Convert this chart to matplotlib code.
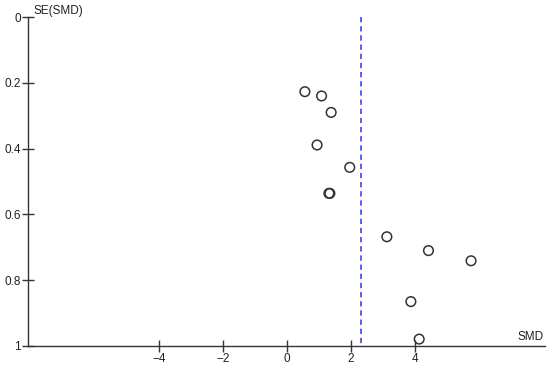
import matplotlib.pyplot as plt

plt.rcParams['font.family'] = ['Liberation Sans', 'DejaVu Sans']

# study effects
smd = [0.56, 1.08, 1.38, 0.94, 1.96, 1.31, 1.34, 3.12, 4.42, 5.75, 3.87, 4.13]
se_smd = [0.227, 0.240, 0.290, 0.389, 0.457, 0.536, 0.536, 0.668, 0.710, 0.741, 0.865, 0.979]
pooled = 2.30

x_ticks = [-4, -2, 0, 2, 4]
y_ticks = [0, 0.2, 0.4, 0.6, 0.8, 1]
y_labels = ['0', '0.2', '0.4', '0.6', '0.8', '1']

fig = plt.figure(figsize=(5.5, 3.66), dpi=100)
ax = fig.add_axes([28 / 550, 20 / 366, 517 / 550, 329 / 366])

ax.scatter(smd, se_smd, s=48, facecolors='none', edgecolors='#333333', linewidths=1.1, zorder=3)
ax.plot([pooled, pooled], [0, 1], color='#3333ee', linestyle=(0, (3.5, 2.5)), linewidth=1.1)

ax.set_xlim(-8.09, 8.06)
ax.set_ylim(1, 0)
ax.set_xticks(x_ticks)
ax.set_xticklabels(['\u2212' + str(-t) if t < 0 else str(t) for t in x_ticks])
ax.set_yticks(y_ticks)
ax.set_yticklabels(y_labels)

for s in ['top', 'right']:
    ax.spines[s].set_visible(False)
for s in ['left', 'bottom']:
    ax.spines[s].set_color('#333333')
    ax.spines[s].set_linewidth(1.0)

ax.tick_params(direction='inout', length=8, width=1.0, color='#333333',
               labelsize=8.5, labelcolor='#222222', pad=1)

ax.text(33 / 550, 1 - 11 / 366, 'SE(SMD)', transform=fig.transFigure,
        ha='left', va='center', fontsize=8.5, color='#222222')
ax.text(544 / 550, 1 - 337 / 366, 'SMD', transform=fig.transFigure,
        ha='right', va='center', fontsize=8.5, color='#222222')

fig.savefig('out.png', dpi=100)
